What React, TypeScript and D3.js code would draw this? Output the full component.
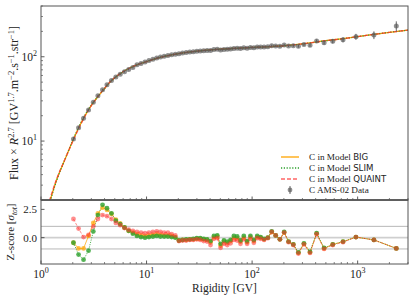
import React from 'react';
import * as d3 from 'd3';

// ---------- data ----------
const rigidity = [2.03, 2.27, 2.53, 2.82, 3.13, 3.46, 3.83, 4.22, 4.65, 5.12, 5.63, 6.18, 6.77, 7.42, 8.11, 8.86, 9.67, 10.54, 11.49, 12.49, 13.54, 14.69, 15.94, 17.29, 18.73, 20.28, 21.93, 23.73, 25.68, 27.73, 29.93, 32.28, 34.78, 37.47, 40.37, 43.47, 46.77, 50.31, 54.12, 58.16, 62.51, 67.21, 72.25, 77.65, 83.45, 89.69, 96.44, 103.9, 111.9, 120.4, 129.9, 140.9, 153.4, 167.3, 183.3, 201.3, 221.7, 245.7, 274.5, 309.9, 353.7, 408.8, 481.0, 581.0, 727.0, 963.8, 1426, 2324];

const flux = [10.6, 14.4, 18.6, 23.4, 28.8, 34.5, 40.6, 46.6, 52.3, 57.4, 62.0, 66.3, 70.5, 74.4, 80.2, 83.4, 86.7, 90.0, 93.3, 96.4, 99.2, 101.7, 103.6, 105.6, 107.4, 108.7, 110.5, 112.0, 113.6, 114.9, 116.3, 117.2, 118.2, 119.0, 119.0, 121.6, 122.6, 120.5, 122.3, 122.6, 123.9, 125.5, 126.0, 125.2, 127.8, 126.3, 129.1, 127.5, 130.3, 130.5, 130.4, 131.5, 135.5, 134.3, 133.3, 138.0, 134.5, 135.5, 133.0, 139.5, 137.0, 154.0, 146.5, 152.5, 159.0, 173.0, 181.0, 231.0];

const fluxErr = [0.4, 0.5, 0.6, 0.7, 0.8, 0.9, 1.0, 1.1, 1.2, 1.3, 1.3, 1.4, 1.4, 1.5, 1.6, 1.6, 1.7, 1.7, 1.8, 1.8, 1.9, 1.9, 2.0, 2.0, 2.0, 2.1, 2.1, 2.1, 2.2, 2.2, 2.2, 2.3, 2.3, 2.3, 2.4, 2.4, 2.4, 2.5, 2.5, 2.5, 2.6, 2.6, 2.7, 2.7, 2.8, 2.8, 2.9, 3.0, 3.0, 3.1, 3.2, 3.3, 3.5, 3.6, 3.8, 4.0, 4.2, 4.5, 4.8, 5.2, 5.7, 6.4, 7.2, 8.5, 11.0, 14.0, 19.0, 32.0];

const zBig = [-0.45, -0.95, -0.95, 0.15, 1.3, 2.15, 2.65, 2.45, 2.1, 1.6, 1.25, 0.9, 0.6, 0.45, 0.3, 0.2, 0.15, 0.2, 0.25, 0.3, 0.25, 0.2, 0.2, 0.15, 0.05, -0.25, -0.2, -0.2, -0.15, -0.15, -0.1, -0.1, -0.15, -0.2, -0.4, 0.05, 0.1, -0.7, -0.35, -0.45, -0.3, 0.0, -0.05, -0.35, 0.0, -0.4, 0.05, -0.3, 0.05, 0.0, -0.15, 0.0, 0.5, 0.2, -0.15, 0.45, -0.35, -0.6, -1.35, -0.55, -1.3, 0.35, -0.95, -0.6, -0.35, 0.05, -0.2, -0.95];

const zSlim = [-0.45, -1.5, -1.95, -1.15, 0.55, 2.0, 2.9, 2.6, 2.15, 1.5, 1.2, 0.9, 0.6, 0.35, 0.15, 0.05, 0.0, 0.05, 0.1, 0.15, 0.1, 0.1, 0.1, 0.05, 0.0, -0.25, -0.2, -0.15, -0.15, -0.1, -0.05, -0.05, -0.1, -0.15, -0.3, 0.15, 0.2, -0.55, -0.25, -0.35, -0.2, 0.15, 0.1, -0.25, 0.15, -0.3, 0.15, -0.2, 0.15, 0.05, -0.1, 0.0, 0.55, 0.2, -0.15, 0.5, -0.35, -0.6, -1.3, -0.5, -1.25, 0.4, -0.9, -0.6, -0.35, 0.05, -0.2, -0.95];

const zQuaint = [1.65, 0.8, 0.05, 0.25, 1.0, 1.65, 2.0, 1.9, 1.65, 1.3, 1.1, 0.85, 0.7, 0.6, 0.5, 0.45, 0.4, 0.45, 0.5, 0.55, 0.5, 0.45, 0.45, 0.3, 0.2, -0.3, -0.25, -0.25, -0.2, -0.2, -0.15, -0.2, -0.3, -0.35, -0.65, -0.1, -0.05, -0.9, -0.55, -0.65, -0.5, -0.2, -0.25, -0.55, -0.15, -0.55, -0.1, -0.45, -0.05, -0.1, -0.2, -0.05, 0.5, 0.2, -0.15, 0.45, -0.4, -0.65, -1.4, -0.6, -1.35, 0.3, -1.0, -0.65, -0.4, 0.05, -0.2, -0.95];

const modelR = [1.2, 1.4, 1.7, 2.0, 2.3, 2.6, 3.0, 3.5, 4.0, 4.5, 5, 6, 7, 8, 10, 12, 15, 20, 25, 30, 40, 50, 70, 100, 150, 200, 300, 500, 700, 1000, 1500, 2000, 3000];
const modelBig = [1.85, 3.4, 6.2, 10.1, 14.8, 19.8, 26.5, 34.3, 42.0, 50.0, 56.5, 66.5, 74.0, 79.5, 87.5, 94.5, 101.5, 109, 113.5, 116.5, 120.5, 123, 126, 129, 132, 135, 142, 155, 163, 173, 186, 195, 207];
const modelSlim = [1.8, 3.35, 6.2, 10.2, 15.0, 20.2, 26.8, 34.4, 42.0, 50.0, 56.5, 66.5, 74.0, 79.6, 87.6, 94.6, 101.6, 109, 113.5, 116.4, 120.4, 123, 126, 129, 132, 135, 142, 155, 163, 173, 186, 195, 207];
const modelQuaint = [1.95, 3.5, 6.2, 9.9, 14.4, 19.6, 26.4, 34.4, 42.3, 50.2, 56.7, 66.6, 74.0, 79.4, 87.3, 94.3, 101.3, 108.8, 113.4, 116.5, 120.6, 123.1, 126.1, 129.1, 132, 135, 142, 155, 163, 173, 186, 195, 207];

const xTickValues = [1, 10, 100, 1000];
const xTickExps = ['0', '1', '2', '3'];
const yTickValues = [10, 100];
const yTickExps = ['1', '2'];
const zTickValues = [2.5, 0];
const zTickLabels = ['2.5', '0.0'];
const zRefLines = [1, 0, -1];

const legendLabels = ['BIG', 'SLIM', 'QUAINT'];

// ---------- layout ----------
const W = 415, H = 300;
const L = 41, R = 408;
const T1 = 6, B1 = 200, T2 = 200, B2 = 264;

const SERIF = '"Liberation Serif", "DejaVu Serif", serif';
const SANS = '"DejaVu Sans", "Liberation Sans", sans-serif';

const COL_BIG = '#ffa500';
const COL_SLIM = '#2ca02c';
const COL_QUAINT = '#ff3030';

export default function App() {
  const x = d3.scaleLog().domain([1, 3000]).range([L, R]);
  const y = d3.scaleLog().domain([2, 400]).range([B1, T1]);
  const z = d3.scaleLinear().domain([-2.33, 3.33]).range([B2, T2]);

  const modelLine = (vals: number[]) =>
    d3.line<number>()
      .x((_, i) => x(modelR[i]))
      .y((d) => y(d))
      .curve(d3.curveMonotoneX)(vals) || '';

  const zLine = (vals: number[]) =>
    d3.line<number>()
      .x((_, i) => x(rigidity[i]))
      .y((d) => z(d))(vals) || '';

  const xMinor: number[] = [];
  for (let e = 0; e <= 3; e++) for (let m = 2; m <= 9; m++) {
    const v = m * Math.pow(10, e);
    if (v <= 3000) xMinor.push(v);
  }
  const yMinor: number[] = [];
  for (let e = 0; e <= 2; e++) for (let m = 2; m <= 9; m++) {
    const v = m * Math.pow(10, e);
    if (v >= 2 && v <= 400) yMinor.push(v);
  }

  const zMarker = (vals: number[], col: string, op: number, key: string) =>
    vals.map((v, i) => (
      <circle key={key + i} cx={x(rigidity[i])} cy={z(v)} r={2.4} fill={col} fillOpacity={op} />
    ));

  const legendY = [157, 168, 179, 190];

  return (
    <svg width={W} height={H} style={{ position: 'absolute', left: 0, top: 0 }} fontFamily={SERIF}>
      <rect x={0} y={0} width={W} height={H} fill="#fff" />
      <defs>
        <clipPath id="c1"><rect x={L} y={T1} width={R - L} height={B1 - T1} /></clipPath>
        <clipPath id="c2"><rect x={L} y={T2} width={R - L} height={B2 - T2} /></clipPath>
      </defs>

      {/* ---------- top panel ---------- */}
      <g clipPath="url(#c1)">
        <path d={modelLine(modelBig)} fill="none" stroke={COL_BIG} strokeWidth={1.3} />
        <path d={modelLine(modelSlim)} fill="none" stroke={COL_SLIM} strokeWidth={1.3} strokeDasharray="1.2,1.6" />
        <path d={modelLine(modelQuaint)} fill="none" stroke={COL_QUAINT} strokeOpacity={0.75} strokeWidth={1.3} strokeDasharray="4,2" />
        {rigidity.map((r, i) => (
          <g key={'d' + i}>
            <line x1={x(r)} x2={x(r)} y1={y(flux[i] - fluxErr[i])} y2={y(flux[i] + fluxErr[i])} stroke="#666" strokeWidth={1} />
            <circle cx={x(r)} cy={y(flux[i])} r={2.5} fill="#555" fillOpacity={0.65} />
          </g>
        ))}
      </g>

      {xMinor.map((v) => (
        <line key={'xm1' + v} x1={x(v)} x2={x(v)} y1={B1} y2={B1 - 2} stroke="#333" strokeWidth={0.6} />
      ))}
      {xTickValues.map((v) => (
        <line key={'xM1' + v} x1={x(v)} x2={x(v)} y1={B1} y2={B1 - 3.5} stroke="#333" strokeWidth={0.8} />
      ))}
      {yMinor.map((v) => (
        <line key={'ym' + v} x1={L} x2={L + 2} y1={y(v)} y2={y(v)} stroke="#333" strokeWidth={0.6} />
      ))}
      {yTickValues.map((v, i) => (
        <g key={'yM' + v}>
          <line x1={L} x2={L + 3.5} y1={y(v)} y2={y(v)} stroke="#333" strokeWidth={0.8} />
          <text x={L - 4} y={y(v) + 4} textAnchor="end" fontSize={11.5} fill="#222">
            10<tspan dy={-5} fontSize={8}>{yTickExps[i]}</tspan>
          </text>
        </g>
      ))}
      <rect x={L} y={T1} width={R - L} height={B1 - T1} fill="none" stroke="#555" strokeWidth={1} />

      {/* legend */}
      <g fontSize={9.2} fill="#222">
        <line x1={281} x2={299} y1={legendY[0]} y2={legendY[0]} stroke={COL_BIG} strokeWidth={1.3} />
        <line x1={281} x2={299} y1={legendY[1]} y2={legendY[1]} stroke={COL_SLIM} strokeWidth={1.3} strokeDasharray="1.2,1.6" />
        <line x1={281} x2={299} y1={legendY[2]} y2={legendY[2]} stroke={COL_QUAINT} strokeOpacity={0.75} strokeWidth={1.3} strokeDasharray="4,2" />
        <line x1={290} x2={290} y1={legendY[3] - 4} y2={legendY[3] + 4} stroke="#666" strokeWidth={1} />
        <circle cx={290} cy={legendY[3]} r={2.4} fill="#555" fillOpacity={0.65} />
        {legendLabels.map((lab, i) => (
          <text key={lab} x={309} y={legendY[i] + 3.2}>
            C in Model <tspan fontFamily={SANS} fontSize={8.6}>{lab}</tspan>
          </text>
        ))}
        <text x={309} y={legendY[3] + 3.2}>C AMS-02 Data</text>
      </g>

      {/* y label top */}
      <text transform={`translate(18,${(T1 + B1) / 2}) rotate(-90)`} textAnchor="middle" fontSize={12} fill="#222">
        Flux × <tspan fontStyle="italic">R</tspan>
        <tspan dy={-4.5} fontSize={8.5}>2.7</tspan>
        <tspan dy={4.5}> [GV</tspan>
        <tspan dy={-4.5} fontSize={8.5}>1.7</tspan>
        <tspan dy={4.5}>.m</tspan>
        <tspan dy={-4.5} fontSize={8.5}>−2</tspan>
        <tspan dy={4.5}>.s</tspan>
        <tspan dy={-4.5} fontSize={8.5}>−1</tspan>
        <tspan dy={4.5}>.str</tspan>
        <tspan dy={-4.5} fontSize={8.5}>−1</tspan>
        <tspan dy={4.5}>]</tspan>
      </text>

      {/* ---------- bottom panel ---------- */}
      {zRefLines.map((v) => (
        <line key={'zr' + v} x1={L} x2={R} y1={z(v)} y2={z(v)} stroke={v === 0 ? '#cfcfcf' : '#b0b0b0'} strokeWidth={v === 0 ? 1.8 : 0.9} />
      ))}
      <g clipPath="url(#c2)">
        <path d={zLine(zBig)} fill="none" stroke={COL_BIG} strokeWidth={0.9} strokeOpacity={0.8} />
        <path d={zLine(zSlim)} fill="none" stroke={COL_SLIM} strokeWidth={0.9} strokeDasharray="1,1.4" />
        <path d={zLine(zQuaint)} fill="none" stroke={COL_QUAINT} strokeOpacity={0.6} strokeWidth={0.9} strokeDasharray="3,1.5" />
        {zMarker(zBig, COL_BIG, 0.7, 'zb')}
        {zMarker(zSlim, COL_SLIM, 0.8, 'zs')}
        {zMarker(zQuaint, COL_QUAINT, 0.55, 'zq')}
      </g>

      {xMinor.map((v) => (
        <line key={'xm2' + v} x1={x(v)} x2={x(v)} y1={B2} y2={B2 - 2} stroke="#333" strokeWidth={0.6} />
      ))}
      {xTickValues.map((v, i) => (
        <g key={'xM2' + v}>
          <line x1={x(v)} x2={x(v)} y1={B2} y2={B2 - 3.5} stroke="#333" strokeWidth={0.8} />
          <text x={x(v)} y={B2 + 13.5} textAnchor="middle" fontSize={11.5} fill="#222">
            10<tspan dy={-5} fontSize={8}>{xTickExps[i]}</tspan>
          </text>
        </g>
      ))}
      {zTickValues.map((v, i) => (
        <g key={'zt' + v}>
          <line x1={L} x2={L + 3.5} y1={z(v)} y2={z(v)} stroke="#333" strokeWidth={0.8} />
          <text x={L - 4} y={z(v) + 4} textAnchor="end" fontSize={11} fill="#222">{zTickLabels[i]}</text>
        </g>
      ))}
      <rect x={L} y={T2} width={R - L} height={B2 - T2} fill="none" stroke="#555" strokeWidth={1} />
      <line x1={L} x2={R} y1={B1} y2={B1} stroke="#555" strokeWidth={1.6} />

      <text transform={`translate(14,${(T2 + B2) / 2}) rotate(-90)`} textAnchor="middle" fontSize={11} fill="#222">
        Z-score [<tspan fontStyle="italic">σ</tspan>
        <tspan dy={2.5} fontSize={7.5} fontStyle="italic">tot</tspan>
        <tspan dy={-2.5}>]</tspan>
      </text>

      <text x={(L + R) / 2} y={292} textAnchor="middle" fontSize={11.5} fill="#222">Rigidity [GV]</text>
    </svg>
  );
}
